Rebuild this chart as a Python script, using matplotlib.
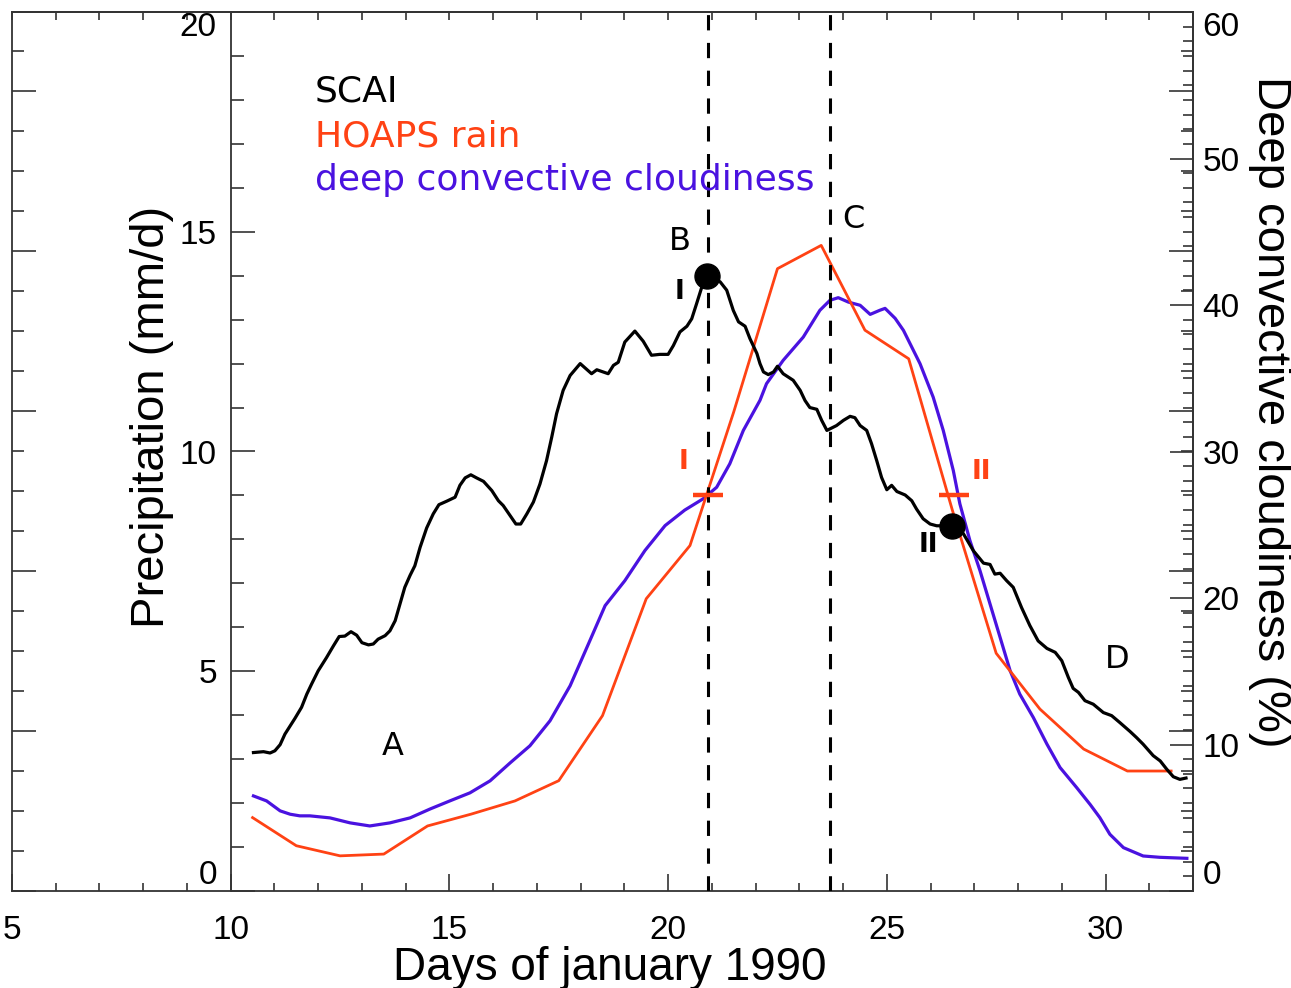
import matplotlib
matplotlib.use('Agg')
import matplotlib.pyplot as plt
from matplotlib.ticker import MultipleLocator, FixedLocator, NullFormatter

plt.rcParams['lines.scale_dashes'] = False

# ---------------- data ----------------
scai_day = [10.52, 10.75, 10.90, 11.01, 11.13, 11.24, 11.36, 11.47, 11.62, 11.74, 11.85, 12.00,
            12.19, 12.35, 12.48, 12.61, 12.75, 12.88, 13.00, 13.15, 13.26, 13.37, 13.53, 13.64,
            13.76, 13.87, 13.98, 14.10, 14.21, 14.33, 14.48, 14.63, 14.76, 14.94, 15.13, 15.24,
            15.36, 15.49, 15.62, 15.78, 15.97, 16.12, 16.23, 16.39, 16.52, 16.63, 16.77, 16.92,
            17.07, 17.22, 17.34, 17.45, 17.60, 17.76, 17.99, 18.25, 18.37, 18.63, 18.75, 18.86,
            19.01, 19.24, 19.43, 19.62, 19.81, 20.00, 20.12, 20.27, 20.43, 20.54, 20.65, 20.77,
            20.88, 21.19, 21.34, 21.49, 21.61, 21.76, 21.87, 22.03, 22.10, 22.18, 22.29, 22.41,
            22.50, 22.63, 22.86, 23.02, 23.13, 23.24, 23.40, 23.51, 23.63, 23.85, 24.01, 24.16,
            24.27, 24.39, 24.54, 24.65, 24.77, 24.88, 25.00, 25.11, 25.23, 25.42, 25.57, 25.68,
            25.83, 25.99, 26.14, 26.48, 26.75, 26.98, 27.21, 27.36, 27.47, 27.59, 27.74, 27.89,
            28.08, 28.27, 28.46, 28.66, 28.85, 29.00, 29.15, 29.26, 29.38, 29.53, 29.72, 29.95,
            30.14, 30.33, 30.56, 30.71, 30.86, 31.09, 31.25, 31.40, 31.55, 31.70, 31.84]
scai_val = [3.15, 3.17, 3.14, 3.19, 3.33, 3.57, 3.76, 3.93, 4.18, 4.48, 4.71, 5.01,
            5.31, 5.58, 5.79, 5.80, 5.90, 5.82, 5.65, 5.60, 5.62, 5.73, 5.81, 5.92,
            6.15, 6.53, 6.91, 7.18, 7.40, 7.82, 8.26, 8.58, 8.79, 8.87, 8.96, 9.23,
            9.40, 9.47, 9.40, 9.32, 9.11, 8.88, 8.77, 8.54, 8.35, 8.35, 8.58, 8.85,
            9.26, 9.79, 10.33, 10.86, 11.39, 11.73, 12.00, 11.77, 11.86, 11.77, 11.96, 12.03,
            12.49, 12.74, 12.51, 12.19, 12.21, 12.21, 12.41, 12.72, 12.85, 13.02, 13.36, 13.74,
            14.01, 13.86, 13.67, 13.21, 12.95, 12.85, 12.57, 12.23, 12.00, 11.81, 11.75, 11.81,
            11.94, 11.77, 11.62, 11.39, 11.16, 11.00, 10.96, 10.71, 10.48, 10.59, 10.71, 10.80,
            10.77, 10.59, 10.48, 10.18, 9.79, 9.41, 9.13, 9.23, 9.09, 9.01, 8.88, 8.69,
            8.47, 8.35, 8.31, 8.31, 8.13, 7.74, 7.46, 7.43, 7.21, 7.23, 7.06, 6.91,
            6.45, 6.04, 5.69, 5.52, 5.43, 5.24, 4.86, 4.61, 4.52, 4.33, 4.25, 4.06,
            3.99, 3.83, 3.63, 3.49, 3.34, 3.08, 2.96, 2.77, 2.60, 2.54, 2.57]

rain_day = [10.5, 11.5, 12.5, 13.5, 14.5, 15.5, 16.5, 17.5, 18.5, 19.5, 20.5,
            21.5, 22.5, 23.5, 24.5, 25.5, 26.5, 27.5, 28.5, 29.5, 30.5, 31.5]
rain_val = [1.67, 1.03, 0.80, 0.84, 1.48, 1.75, 2.05, 2.51, 3.99, 6.65, 7.86,
            10.9, 14.16, 14.69, 12.76, 12.11, 8.66, 5.41, 4.14, 3.23, 2.73, 2.73]

cloud_day = [10.52, 10.82, 11.13, 11.36, 11.58, 11.81, 12.27, 12.73, 13.18, 13.64, 14.10,
             14.56, 15.01, 15.47, 15.93, 16.39, 16.84, 17.30, 17.76, 18.21, 18.56, 19.01,
             19.47, 19.93, 20.38, 20.80, 21.11, 21.41, 21.72, 22.10, 22.25, 22.63, 23.09,
             23.47, 23.70, 23.89, 24.12, 24.39, 24.62, 24.84, 24.96, 25.19, 25.38, 25.76,
             26.06, 26.29, 26.52, 26.67, 26.90, 27.13, 27.36, 27.59, 27.82, 28.04, 28.35,
             28.66, 28.96, 29.34, 29.65, 29.87, 30.10, 30.41, 30.86, 31.24, 31.86]
cloud_pct = [6.49, 6.15, 5.47, 5.24, 5.13, 5.13, 4.99, 4.65, 4.44, 4.65, 4.99,
             5.60, 6.15, 6.70, 7.52, 8.75, 9.91, 11.62, 14.01, 17.08, 19.48, 21.18,
             23.24, 24.94, 26.00, 26.77, 27.56, 29.16, 31.44, 33.49, 34.63, 36.22, 37.81,
             39.64, 40.32, 40.50, 40.20, 39.98, 39.36, 39.64, 39.77, 39.09, 38.27, 35.99,
             33.71, 31.44, 28.70, 26.43, 23.92, 21.87, 19.59, 17.31, 15.03, 13.44, 11.84,
             10.03, 8.43, 7.06, 5.90, 5.01, 3.87, 2.96, 2.39, 2.30, 2.23]

event_days = [20.91, 23.70]
dot_day = [20.90, 26.48]
dot_val = [13.99, 8.30]
cross_day = [20.91, 26.53]
cross_val = [9.0, 9.0]

x_ticks = [5, 10, 15, 20, 25, 30]
left_ticks = [0, 5, 10, 15, 20]
right_ticks = [0, 10, 20, 30, 40, 50, 60]

ORANGE = '#FF4214'
BLUE = '#4A12E0'
AXC = '#333333'
TICKFS = 24

# ---------------- figure ----------------
W, H = 1291, 988
fig = plt.figure(figsize=(W / 100, H / 100), dpi=100)
rect = [12 / W, 1 - 891 / H, (1193 - 12) / W, (891 - 12) / H]

# outer box with its own ticks
ax_box = fig.add_axes(rect)
ax_box.set_zorder(0)
ax_box.set_xlim(5, 32)
ax_box.set_ylim(0, 879 / 40)
ax_box.xaxis.set_major_locator(FixedLocator(x_ticks))
ax_box.xaxis.set_minor_locator(MultipleLocator(1))
ax_box.set_xticklabels([str(t) for t in x_ticks], family='Liberation Sans')
ax_box.yaxis.set_major_locator(MultipleLocator(4))
ax_box.yaxis.set_minor_locator(MultipleLocator(1))
ax_box.yaxis.set_major_formatter(NullFormatter())
ax_box.tick_params(axis='x', which='both', direction='in', top=False, bottom=True,
                   labelsize=TICKFS, pad=17, color=AXC, labelcolor='black')
ax_box.tick_params(axis='x', which='major', length=12, width=1.2)
ax_box.tick_params(axis='x', which='minor', length=6, width=1.2)
ax_box.tick_params(axis='y', which='both', direction='in', left=True, right=True,
                   labelleft=False, color=AXC)
ax_box.tick_params(axis='y', which='major', length=17, width=1.2)
ax_box.tick_params(axis='y', which='minor', length=8.6, width=1.2)
for s in ax_box.spines.values():
    s.set_linewidth(1.3)
    s.set_color(AXC)

top = ax_box.secondary_xaxis('top')
top.xaxis.set_major_locator(MultipleLocator(1))
top.xaxis.set_major_formatter(NullFormatter())
top.tick_params(direction='in', length=6, width=1.2, color=AXC)
top.spines['top'].set_linewidth(1.3)
top.spines['top'].set_color(AXC)

# main axes (precipitation units), axis line at day 10
ax_main = fig.add_axes(rect)
ax_main.patch.set_visible(False)
ax_main.set_xlim(5, 32)
ax_main.set_ylim(0, 20)
for k in ['top', 'right', 'bottom']:
    ax_main.spines[k].set_visible(False)
ax_main.spines['left'].set_position(('data', 10))
ax_main.spines['left'].set_linewidth(1.3)
ax_main.spines['left'].set_color(AXC)
ax_main.tick_params(axis='x', which='both', bottom=False, labelbottom=False)
ax_main.yaxis.set_major_locator(FixedLocator(left_ticks))
ax_main.yaxis.set_minor_locator(MultipleLocator(1))
ax_main.set_yticklabels([str(t) for t in left_ticks], family='Liberation Sans')
ax_main.tick_params(axis='y', which='both', direction='in', color=AXC, labelsize=TICKFS, pad=10)
ax_main.tick_params(axis='y', which='major', length=17, width=1.2)
ax_main.tick_params(axis='y', which='minor', length=9, width=1.2)
mt = ax_main.yaxis.get_major_ticks()
mt[0].label1.set_va('bottom')
mt[-1].label1.set_va('top')

# cloudiness axis (%)
ax_pct = ax_main.twinx()
ax_pct.patch.set_visible(False)
ax_pct.set_ylim(0, 60)
for k in ['top', 'left', 'bottom']:
    ax_pct.spines[k].set_visible(False)
ax_pct.spines['right'].set_linewidth(1.3)
ax_pct.spines['right'].set_color(AXC)
ax_pct.yaxis.set_major_locator(FixedLocator(right_ticks))
ax_pct.yaxis.set_minor_locator(MultipleLocator(1))
ax_pct.set_yticklabels([str(t) for t in right_ticks], family='Liberation Sans')
ax_pct.tick_params(axis='y', which='both', direction='in', color=AXC, labelsize=TICKFS, pad=7)
ax_pct.tick_params(axis='y', which='major', length=16.5, width=1.2)
ax_pct.tick_params(axis='y', which='minor', length=7, width=1.2)
pt = ax_pct.yaxis.get_major_ticks()
pt[0].label2.set_va('bottom')
pt[-1].label2.set_va('top')
ax_pct.set_zorder(1)
ax_main.set_zorder(2)

# ---------------- data marks ----------------
ax_pct.plot(cloud_day, cloud_pct, color=BLUE, lw=2.3)
ax_main.plot(rain_day, rain_val, color=ORANGE, lw=2.0)
ax_main.plot(scai_day, scai_val, color='black', lw=2.3)
for d in event_days:
    ax_main.axvline(d, color='black', lw=2.2, dashes=(11, 9))
ax_main.plot(dot_day, dot_val, ls='none', marker='o', ms=18, color='black')
ax_main.plot(cross_day, cross_val, ls='none', marker='_', ms=22, mew=3.2, color=ORANGE)

# ---------------- annotations ----------------
tf = dict(family='DejaVu Sans', fontsize=26)
ax_main.text(11.93, 17.97, 'SCAI', color='black', ha='left', va='baseline', **tf)
ax_main.text(11.93, 16.95, 'HOAPS rain', color=ORANGE, ha='left', va='baseline', **tf)
ax_main.text(11.93, 15.95, 'deep convective cloudiness', color=BLUE, ha='left', va='baseline', **tf)

lf = dict(family='DejaVu Sans', fontsize=23, ha='center', va='center')
ax_main.text(13.71, 3.28, 'A', **lf)
ax_main.text(20.27, 14.77, 'B', **lf)
ax_main.text(24.23, 15.29, 'C', **lf)
ax_main.text(30.26, 5.26, 'D', **lf)

bf = dict(family='DejaVu Sans', fontsize=19, fontweight='bold', ha='center', va='center')
ax_main.text(20.27, 13.64, 'I', color='black', **bf)
ax_main.text(25.95, 7.87, 'II', color='black', **bf)
ax_main.text(20.35, 9.77, 'I', color=ORANGE, **bf)
ax_main.text(27.17, 9.54, 'II', color=ORANGE, **bf)

# axis titles
fig.text(152 / W, 1 - 417 / H, 'Precipitation (mm/d)', rotation=90, ha='center', va='center',
         family='Liberation Sans', fontsize=34)
fig.text(1270 / W, 1 - 412 / H, 'Deep convective cloudiness (%)', rotation=270, ha='center',
         va='center', family='Liberation Sans', fontsize=34)
fig.text(610 / W, 1 - 980 / H, 'Days of january 1990', ha='center', va='baseline',
         family='Liberation Sans', fontsize=33)

fig.savefig('out.png', dpi=100)
